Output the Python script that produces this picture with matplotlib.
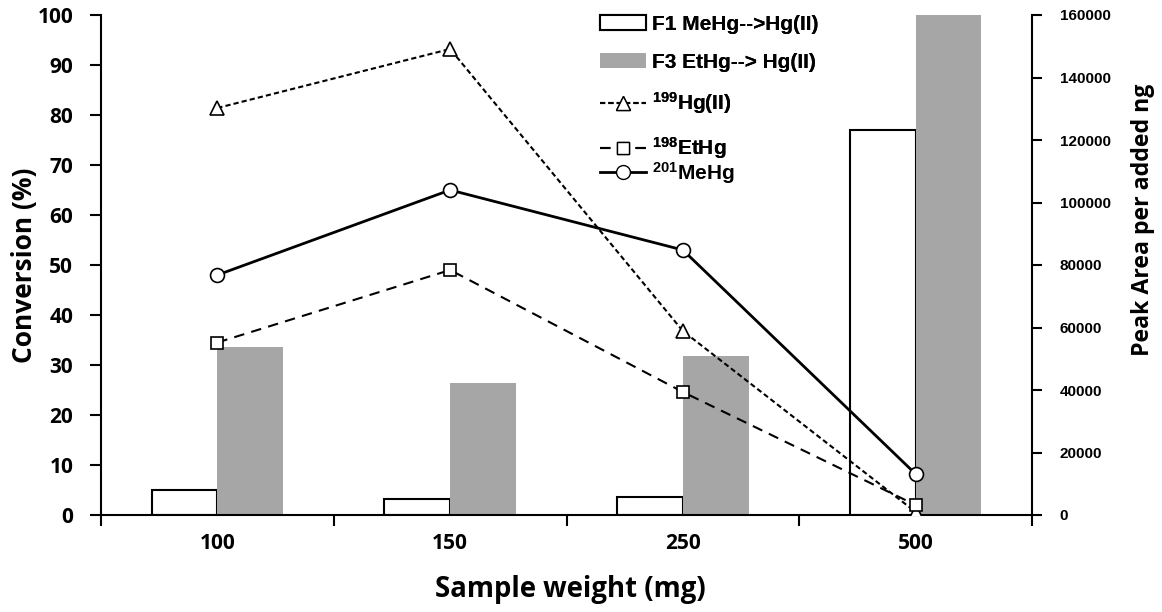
import matplotlib
matplotlib.use("Agg")
import matplotlib.pyplot as plt
from matplotlib.patches import Patch
from matplotlib.lines import Line2D
import numpy as np

categories = ["100", "150", "250", "500"]
f1_mehg_to_hg = [5.0, 3.2, 3.6, 77.0]
f3_ethg_to_hg = [33.7, 26.4, 31.8, 104.0]
hg199 = [81.4, 93.2, 36.8, 0.6]
ethg198 = [34.5, 49.0, 24.6, 2.0]
mehg201 = [48.0, 65.0, 53.0, 8.2]
right_ticks = [0, 20000, 40000, 60000, 80000, 100000, 120000, 140000, 160000]

plt.rcParams['mathtext.fontset'] = 'custom'
plt.rcParams['mathtext.rm'] = 'Liberation Sans:bold'
plt.rcParams['mathtext.bf'] = 'Liberation Sans:bold'
plt.rcParams['mathtext.it'] = 'Liberation Sans:bold'

fig = plt.figure(figsize=(11.62, 6.12), dpi=100)
ax = fig.add_axes([101/1162, 1-515/612, (1032-101)/1162, 500/612])

x = np.arange(len(categories))
w = 0.283
ax.bar(x, f1_mehg_to_hg, width=-w, align='edge', facecolor='white',
       edgecolor='black', linewidth=1.5, zorder=2)
ax.bar(x, f3_ethg_to_hg, width=w, align='edge', facecolor='#a6a6a6',
       edgecolor='none', zorder=2)

ax.plot(x, hg199, color='black', linewidth=1.5, linestyle=(0, (2.5, 1.5)),
        marker='^', markersize=10, markerfacecolor='white',
        markeredgecolor='black', markeredgewidth=1.2, zorder=3)
ax.plot(x, ethg198, color='black', linewidth=1.5, linestyle=(0, (5, 3.5)),
        marker='s', markersize=9, markerfacecolor='white',
        markeredgecolor='black', markeredgewidth=1.2, zorder=3)
ax.plot(x, mehg201, color='black', linewidth=2, linestyle='-',
        marker='o', markersize=10, markerfacecolor='white',
        markeredgecolor='black', markeredgewidth=1.2, zorder=3)

ax.set_xlim(-0.5, len(categories) - 0.5)
ax.set_ylim(0, 100)
ax.set_yticks(np.arange(0, 101, 10))

ax.set_xticks(np.arange(-0.5, len(categories), 1.0))
ax.set_xticklabels([])
ax.set_xticks(x, minor=True)
ax.set_xticklabels(categories, minor=True)
ax.tick_params(axis='x', which='major', direction='out', length=8, width=1.5)
ax.tick_params(axis='x', which='minor', length=0, pad=13)
ax.tick_params(axis='y', direction='out', length=8, width=1.5, pad=12)

for lab in ax.get_xticklabels(minor=True) + ax.get_yticklabels():
    lab.set_fontfamily('Open Sans')
    lab.set_fontweight('bold')
    lab.set_fontsize(15)

for s in ['top', 'right']:
    ax.spines[s].set_visible(False)
for s in ['left', 'bottom']:
    ax.spines[s].set_linewidth(1.5)

ax.set_ylabel('Conversion (%)', fontfamily='Open Sans', fontweight='bold',
              fontsize=19)
ax.yaxis.set_label_coords(-0.068, 0.5)
ax.set_xlabel('Sample weight (mg)', fontfamily='Open Sans', fontweight='bold',
              fontsize=19.8)
ax.xaxis.set_label_coords(0.504, -0.12)

ax2 = ax.twinx()
ax2.set_ylim(0, 160000)
ax2.set_yticks(right_ticks)
ax2.set_yticklabels([str(t) for t in right_ticks], fontfamily='Liberation Sans',
                    fontweight='bold', fontsize=11)
ax2.tick_params(axis='y', direction='out', length=7, width=1.5, pad=13)
for s in ['top', 'left', 'bottom']:
    ax2.spines[s].set_visible(False)
ax2.spines['right'].set_linewidth(1.5)
ax2.set_ylabel('Peak Area per added ng', fontfamily='Open Sans',
               fontweight='bold', fontsize=16.7)
ax2.yaxis.set_label_coords(1.106, 0.59)

lfont = {'family': 'Liberation Sans', 'weight': 'bold', 'size': 15}
h1 = [Patch(facecolor='white', edgecolor='black', linewidth=1.5),
      Patch(facecolor='#a6a6a6', edgecolor='none'),
      Line2D([], [], color='black', linewidth=1.5, linestyle=(0, (2.5, 1.5)),
             marker='^', markersize=10, markerfacecolor='white',
             markeredgecolor='black'),
      Line2D([], [], color='black', linewidth=1.5, linestyle=(0, (5, 3.5)),
             marker='s', markersize=9, markerfacecolor='white',
             markeredgecolor='black')]
l1 = ['F1 MeHg-->Hg(II)', 'F3 EtHg--> Hg(II)', r'$^{199}$Hg(II)', r'$^{198}$EtHg']
leg1 = fig.legend(h1, l1, loc='upper left', bbox_to_anchor=(600/1162, 1-15/612),
                  frameon=False, prop=lfont, handlelength=2.2, handletextpad=0.3,
                  labelspacing=0.9, borderpad=0, borderaxespad=0)
h2 = [Line2D([], [], color='black', linewidth=2, linestyle='-',
             marker='o', markersize=10, markerfacecolor='white',
             markeredgecolor='black')]
leg2 = fig.legend(h2, [r'$^{201}$MeHg'], loc='upper left',
                  bbox_to_anchor=(600/1162, 1-160/612), frameon=False, prop=lfont,
                  handlelength=2.2, handletextpad=0.3, borderpad=0, borderaxespad=0)
fig.add_artist(leg1)

fig.savefig('out.png', dpi=100)
